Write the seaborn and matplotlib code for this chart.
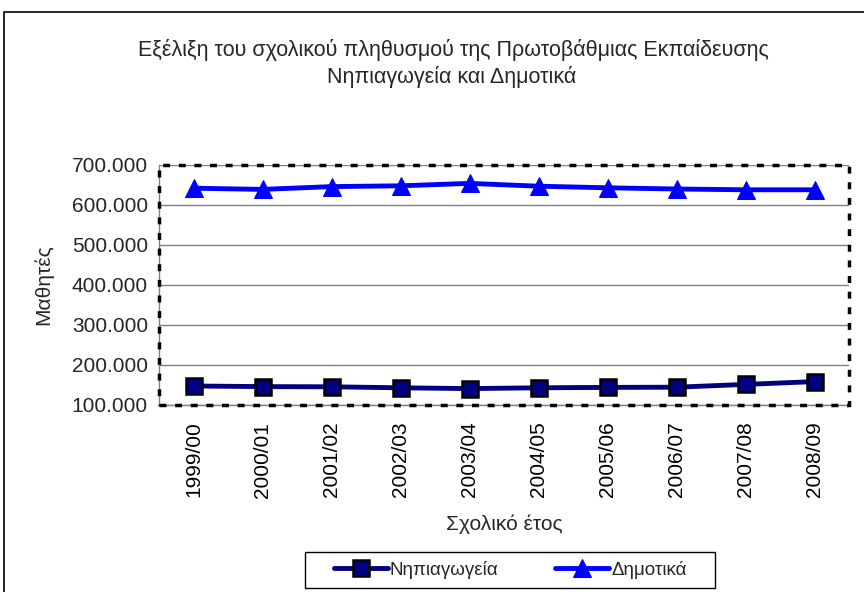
import numpy as np
import pandas as pd
import matplotlib
matplotlib.use("Agg")
import matplotlib.pyplot as plt
import seaborn as sns
from matplotlib.patches import Rectangle
from matplotlib.ticker import FuncFormatter, FixedLocator

# ============================================
# DATA
# ============================================
years = ["1999/00", "2000/01", "2001/02", "2002/03", "2003/04",
         "2004/05", "2005/06", "2006/07", "2007/08", "2008/09"]
nipiagogeia = [147500, 146000, 145500, 143000, 141000,
               143000, 144000, 144500, 151500, 158500]
dimotika = [642000, 639000, 646000, 648000, 654000,
            647000, 643000, 640000, 638000, 638000]

df = pd.DataFrame({"pos": np.arange(len(years)),
                   "Νηπιαγωγεία": nipiagogeia,
                   "Δημοτικά": dimotika})

# ============================================
# PLOT
# ============================================
sns.set_theme(style="white")
plt.rcParams["font.family"] = ["Liberation Sans", "DejaVu Sans"]

fig = plt.figure(figsize=(8.64, 5.92), dpi=100)
ax = fig.add_axes([159 / 864, 1 - 405 / 592, 690 / 864, 240 / 592])

sns.lineplot(data=df, x="pos", y="Νηπιαγωγεία", ax=ax, color="#000080",
             linewidth=3.5, marker="s", markersize=11, markerfacecolor="#000080",
             markeredgecolor="black", markeredgewidth=1.8, label="Νηπιαγωγεία")
sns.lineplot(data=df, x="pos", y="Δημοτικά", ax=ax, color="#0000FF",
             linewidth=3.5, marker="^", markersize=13, markerfacecolor="#0000FF",
             markeredgecolor="#0000FF", label="Δημοτικά")

ax.set_xlim(-0.5, len(years) - 0.5)
ax.set_ylim(100000, 700000)
ax.set_yticks(np.arange(100000, 700001, 100000))
ax.yaxis.set_major_formatter(FuncFormatter(lambda v, p: f"{int(v):,}".replace(",", ".")))
ax.yaxis.grid(True, color="#808080", linewidth=1)
ax.set_axisbelow(True)

ax.set_xticks(df["pos"])
ax.set_xticklabels(years, rotation=90)
ax.xaxis.set_minor_locator(FixedLocator(np.arange(-0.5, len(years), 1.0)))
ax.tick_params(axis="x", which="major", length=0, labelsize=15, pad=12, colors="black")
ax.tick_params(axis="x", which="minor", length=5, width=1, color="#808080", direction="out")
ax.tick_params(axis="y", which="major", length=5, width=1, color="#808080",
               direction="out", labelsize=15, pad=3)

for side in ["top", "right"]:
    ax.spines[side].set_visible(False)
for side in ["left", "bottom"]:
    ax.spines[side].set_color("#808080")
    ax.spines[side].set_linewidth(1)

# dashed plot-area frame
ax.add_patch(Rectangle((0, 0), 1, 1, transform=ax.transAxes, fill=False,
                       edgecolor="black", linewidth=2.5, linestyle=(0, (2, 2.5)),
                       clip_on=False, zorder=5))

ax.set_xlabel("Σχολικό έτος", fontsize=15, labelpad=12)
ax.set_ylabel("Μαθητές", fontsize=15, labelpad=13)

fig.text(453 / 864, 1 - 50 / 592,
         "Εξέλιξη του σχολικού πληθυσμού της Πρωτοβάθμιας Εκπαίδευσης",
         ha="center", va="center", fontsize=15.5)
fig.text(452 / 864, 1 - 77 / 592, "Νηπιαγωγεία και Δημοτικά",
         ha="center", va="center", fontsize=15.5)

leg = ax.legend(loc="center", bbox_to_anchor=(510 / 864, 1 - 570 / 592),
                bbox_transform=fig.transFigure, ncol=2, frameon=False,
                fontsize=13.5, handlelength=2.9, columnspacing=3.0,
                handletextpad=0.1, borderpad=0.3)
# legend box
fig.patches.append(Rectangle((305 / 864, 1 - 588 / 592), 410 / 864, 36 / 592,
                             transform=fig.transFigure, fill=False,
                             edgecolor="black", linewidth=1))

# outer chart border
fig.patches.append(Rectangle((4 / 864, -0.01), 1.0, 1 - 12 / 592 + 0.01,
                             transform=fig.transFigure, fill=False,
                             edgecolor="black", linewidth=1.2))

fig.savefig("out.png", dpi=100)
plt.close(fig)
